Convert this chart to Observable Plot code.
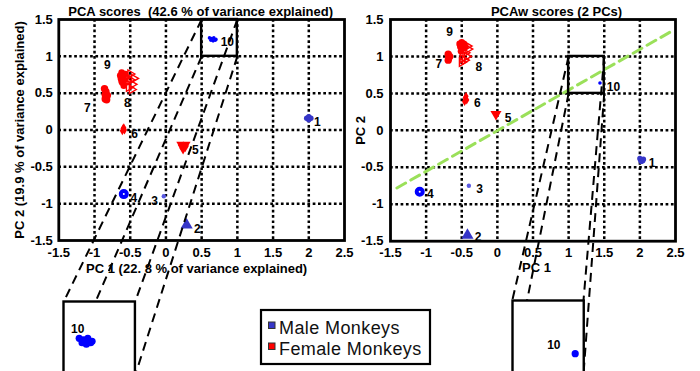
<!DOCTYPE html>
<html><head><meta charset="utf-8">
<script src="https://cdn.jsdelivr.net/npm/d3@7"></script>
<script src="https://cdn.jsdelivr.net/npm/@observablehq/plot@0.6"></script>
<style>
html,body{margin:0;padding:0;background:#fff;}
#fig{position:relative;width:700px;height:371px;overflow:hidden;background:#fff;}
#fig svg{position:absolute;background:transparent;overflow:visible;max-width:none;}
#fig svg text{font-family:"Liberation Sans",Arial,Helvetica,sans-serif;font-weight:700;}
#fig svg.legendbox text{font-weight:400;}
</style></head><body><div id="fig"></div>
<script>
// ---------------- data ----------------
const monkeyIds = [1, 2, 3, 4, 5, 6, 7, 8, 9, 10];
const monkeySex = ["Male","Male","Male","Male","Female","Female","Female","Female","Female","Male"];

// PCA scores (replicate points per monkey)
const pcaX = [
  [1.97, 2.00, 2.03, 2.00, 2.00],
  [0.29],
  [-0.03],
  [-0.59],
  [0.20, 0.25, 0.29, 0.22, 0.27, 0.24],
  [-0.60, -0.58, -0.61, -0.59],
  [-0.86, -0.84, -0.85, -0.84, -0.83, -0.85, -0.82],
  [-0.55, -0.50, -0.47, -0.52, -0.45, -0.50, -0.56, -0.48],
  [-0.62, -0.60, -0.63, -0.58, -0.61, -0.59, -0.57, -0.62, -0.64],
  [0.61, 0.64, 0.67, 0.70, 0.63, 0.66, 0.69]
];
const pcaY = [
  [0.16, 0.18, 0.16, 0.14, 0.17],
  [-1.29],
  [-0.90],
  [-0.87],
  [-0.19, -0.20, -0.19, -0.23, -0.24, -0.27],
  [0.02, 0.00, -0.01, 0.03],
  [0.56, 0.52, 0.48, 0.44, 0.41, 0.42, 0.47],
  [0.72, 0.68, 0.62, 0.58, 0.70, 0.76, 0.64, 0.55],
  [0.78, 0.74, 0.70, 0.68, 0.64, 0.60, 0.76, 0.66, 0.74],
  [1.25, 1.24, 1.25, 1.23, 1.22, 1.21, 1.22]
];
const pcaLabelX = [2.12, 0.44, -0.16, -0.45, 0.41, -0.44, -1.10, -0.54, -0.82, 0.86];
const pcaLabelY = [0.11, -1.34, -0.96, -0.92, -0.28, -0.06, 0.29, 0.37, 0.88, 1.19];

// PCAw scores
const pcawX = [
  [2.00, 2.05, 2.02, 2.04, 2.01],
  [-0.42],
  [-0.40],
  [-1.09],
  [-0.02],
  [-0.45, -0.43, -0.46, -0.44],
  [-0.69, -0.68, -0.69, -0.67],
  [-0.50, -0.46, -0.43, -0.45, -0.41, -0.49, -0.42],
  [-0.53, -0.50, -0.47, -0.52, -0.48, -0.51, -0.45, -0.49],
  [1.44]
];
const pcawY = [
  [-0.38, -0.39, -0.42, -0.41, -0.40],
  [-1.42],
  [-0.75],
  [-0.83],
  [0.22],
  [0.44, 0.41, 0.39, 0.46],
  [1.03, 0.99, 0.95, 1.00],
  [0.92, 0.95, 1.00, 1.05, 1.10, 0.97, 1.14],
  [1.17, 1.19, 1.17, 1.13, 1.11, 1.07, 1.13, 1.15],
  [0.64]
];
const pcawLabelX = [2.17, -0.27, -0.25, -0.94, 0.15, -0.28, -0.82, -0.26, -0.67, 1.63];
const pcawLabelY = [-0.45, -1.45, -0.80, -0.86, 0.17, 0.37, 0.89, 0.85, 1.33, 0.58];

// separating line in PCAw plot
const splitX = [-1.41, 2.48];
const splitY = [-0.78, 1.36];

// axes
const xTicks = [-1.5, -1, -0.5, 0, 0.5, 1, 1.5, 2, 2.5];
const yTicks = [-1.5, -1, -0.5, 0, 0.5, 1, 1.5];
const gridX = [-1, -0.5, 0, 0.5, 1, 1.5, 2];
const gridY = [-1, -0.5, 0, 0.5, 1];

// zoom windows (data units) and inset labels
const pcaZoom = {x1: 0.5, x2: 1, y1: 1, y2: 1.5};
const pcawZoom = {x1: 1, x2: 1.5, y1: 0.5, y2: 1};
const pcaInsetLabel = {x: 0.60, y: 1.31, text: "10"};
const pcawInsetLabel = {x: 1.29, y: 0.695, text: "10"};

const titles = ["PCA scores  (42.6 % of variance explained)", "PCAw scores (2 PCs)"];
const xLabels = ["PC 1 (22. 8 % of variance explained)", "PC 1"];
const yLabels = ["PC 2 (19.9 % of variance explained)", "PC 2"];
const legendLabels = ["Male Monkeys", "Female Monkeys"];

// ---------------- styles ----------------
const FONT = "Liberation Sans, Arial, Helvetica, sans-serif";
const blue = "#0000ff", blueDim = "#3636c8", blueLight = "#5a5ae2", red = "#ff0000";
const sqrt3 = Math.sqrt(3);
const triDown = {draw(ctx, size) { const y = -Math.sqrt(size / (sqrt3 * 3)); ctx.moveTo(0, -2 * y); ctx.lineTo(sqrt3 * y, y); ctx.lineTo(-sqrt3 * y, y); ctx.closePath(); }};
const triRight = {draw(ctx, size) { const y = -Math.sqrt(size / (sqrt3 * 3)); ctx.moveTo(-2 * y, 0); ctx.lineTo(y, sqrt3 * y); ctx.lineTo(y, -sqrt3 * y); ctx.closePath(); }};
const markerStyle = {
  1: {symbol: "circle", r: 2.7, fill: blueDim},
  2: {symbol: "triangle", r: 4.5, fill: blueDim},
  3: {symbol: "circle", r: 2.2, fill: blueLight},
  4: {symbol: "circle", r: 3, fill: "white", stroke: blue, strokeWidth: 4},
  5: {symbol: triDown, r: 2.9, fill: red},
  6: {symbol: "diamond", r: 2.7, fill: red},
  7: {symbol: "circle", r: 3.7, fill: red},
  8: {symbol: triRight, r: 3, fill: "none", stroke: red, strokeWidth: 1.4},
  9: {symbol: "circle", r: 3.3, fill: red},
  10: {symbol: "circle", r: 1.8, fill: blue}
};
const pcawOverride = {5: {r: 4.1}};

function rowsOf(X, Y) {
  return monkeyIds.flatMap((id, i) => X[i].map((x, j) => ({id, x, y: Y[i][j]})));
}
function labelsOf(X, Y) {
  return monkeyIds.map((id, i) => ({x: X[i], y: Y[i], text: String(id)}));
}
function dotMarks(rows, k, clip, override = {}) {
  return monkeyIds.map(id => {
    const s = {...markerStyle[id], ...(override[id] || {})};
    return Plot.dot(rows.filter(d => d.id === id), {
      x: "x", y: "y", symbol: s.symbol, r: s.r * k, fill: s.fill,
      stroke: s.stroke || "none", strokeWidth: s.strokeWidth || 1, clip
    });
  });
}
const gridStyle = {stroke: "black", strokeWidth: 2.5, strokeDasharray: "2.7,2.6", strokeOpacity: 1};
const txt = {fontSize: 13, fontWeight: "bold", fill: "black", textAnchor: "middle", lineAnchor: "middle"};
const ptxt = {...txt, fontSize: 12};

function mainPlot(cfg) {
  return Plot.plot({
    width: cfg.width, height: 280,
    marginLeft: cfg.ml, marginRight: cfg.mr, marginTop: 19, marginBottom: cfg.mb,
    x: {domain: [-1.5, 2.5]}, y: {domain: [-1.5, 1.5]},
    style: {fontFamily: FONT, fontSize: "13px", fontWeight: "bold", color: "black", background: "transparent", overflow: "visible"},
    marks: [
      Plot.ruleX(gridX, gridStyle),
      Plot.ruleY(gridY, gridStyle),
      ...(cfg.extra || []),
      ...dotMarks(cfg.rows, 1, false, cfg.override),
      Plot.text(cfg.labels, {x: "x", y: "y", text: "text", ...ptxt}),
      Plot.rect([cfg.zoom], {x1: "x1", x2: "x2", y1: "y1", y2: "y2", fill: "none", stroke: "black", strokeWidth: 2.4}),
      Plot.frame({stroke: "black", strokeWidth: 2.8}),
      Plot.axisX(xTicks, {tickSize: 0, tickPadding: 7, tickFormat: d => String(d), label: null, fontSize: 13, fontWeight: "bold"}),
      Plot.axisY(yTicks, {tickSize: 0, tickPadding: cfg.ytp, tickFormat: d => String(d), label: null, fontSize: 13, fontWeight: "bold"}),
      Plot.text([cfg.title], {frameAnchor: "top", dy: -8, dx: cfg.titleDx, ...txt}),
      Plot.text([cfg.xlabel], {frameAnchor: "bottom", dy: cfg.xlDy, dx: cfg.xlDx, ...txt}),
      Plot.text([cfg.ylabel], {frameAnchor: "left", rotate: -90, dx: cfg.ylDx, ...txt})
    ]
  });
}

function insetPlot(main, zoom, rows, label, factor, override) {
  const xs = main.scale("x"), ys = main.scale("y");
  const w = factor * Math.abs(xs.apply(zoom.x2) - xs.apply(zoom.x1));
  const h = factor * Math.abs(ys.apply(zoom.y1) - ys.apply(zoom.y2));
  const m = 3;
  return Plot.plot({
    width: w + 2 * m, height: h + 2 * m, margin: m,
    x: {domain: [zoom.x1, zoom.x2], axis: null},
    y: {domain: [zoom.y1, zoom.y2], axis: null},
    style: {fontFamily: FONT, fontSize: "12px", fontWeight: "bold", background: "transparent", overflow: "visible"},
    marks: [
      Plot.frame({fill: "white"}),
      ...dotMarks(rows, factor, true, override),
      Plot.text([label], {x: "x", y: "y", text: "text", ...ptxt}),
      Plot.frame({stroke: "black", strokeWidth: 2.4})
    ]
  });
}

// ---------------- build ----------------
const fig = document.getElementById("fig");
function place(el, left, top, z) {
  el.style.left = left + "px"; el.style.top = top + "px"; el.style.zIndex = z;
  fig.appendChild(el);
  return el;
}

const pcaRows = rowsOf(pcaX, pcaY);
const pcawRows = rowsOf(pcawX, pcawY);

const L = {left: 0, top: 0};
const R = {left: 350, top: 0};
const left = mainPlot({
  width: 360, ml: 58.3, mr: 16, mb: 40, ytp: 6,
  rows: pcaRows, labels: labelsOf(pcaLabelX, pcaLabelY), zoom: pcaZoom,
  title: titles[0], xlabel: xLabels[0], ylabel: yLabels[0],
  titleDx: -1, xlDx: -5, xlDy: 28, ylDx: -39
});
const right = mainPlot({
  width: 350, ml: 40, mr: 25, mb: 39.3, ytp: 7,
  rows: pcawRows, labels: labelsOf(pcawLabelX, pcawLabelY), zoom: pcawZoom, override: pcawOverride,
  title: titles[1], xlabel: xLabels[1], ylabel: yLabels[1],
  titleDx: 23.5, xlDx: 3.5, xlDy: 26.5, ylDx: -30,
  extra: [Plot.line(splitX.map((x, i) => ({x, y: splitY[i]})), {x: "x", y: "y", stroke: "#9be05a", strokeWidth: 3, strokeDasharray: "10,6"})]
});
place(left, L.left, L.top, 1);
place(right, R.left, R.top, 1);

const insetL = insetPlot(left, pcaZoom, pcaRows, pcaInsetLabel, 2, {});
const insetR = insetPlot(right, pcawZoom, pcawRows, pcawInsetLabel, 2, pcawOverride);
const IL = {left: 63.3 - 3, top: 301 - 3};
const IR = {left: 511.7 - 3, top: 300.3 - 3};

function corners(plot, pos, z) {
  const xs = plot.scale("x"), ys = plot.scale("y");
  return {
    tl: [pos.left + xs.apply(z.x1), pos.top + ys.apply(z.y2)],
    tr: [pos.left + xs.apply(z.x2), pos.top + ys.apply(z.y2)],
    bl: [pos.left + xs.apply(z.x1), pos.top + ys.apply(z.y1)],
    br: [pos.left + xs.apply(z.x2), pos.top + ys.apply(z.y1)]
  };
}
const links = [];
for (const [main, mpos, ins, ipos, z] of [[left, L, insetL, IL, pcaZoom], [right, R, insetR, IR, pcawZoom]]) {
  const a = corners(main, mpos, z), b = corners(ins, ipos, z);
  for (const k of ["tl", "tr", "bl", "br"]) links.push({x1: a[k][0], y1: a[k][1], x2: b[k][0], y2: b[k][1]});
}
const overlay = Plot.plot({
  width: 700, height: 371, margin: 0,
  x: {type: "identity", axis: null}, y: {type: "identity", axis: null},
  style: {background: "transparent", overflow: "visible"},
  marks: [Plot.link(links, {x1: "x1", y1: "y1", x2: "x2", y2: "y2", stroke: "black", strokeWidth: 2, strokeDasharray: "9,6"})]
});
place(overlay, 0, 0, 2);
place(insetL, IL.left, IL.top, 3);
place(insetR, IR.left, IR.top, 3);

// legend
const legendColors = {Male: blueDim, Female: red};
const lg = d3.create("svg").attr("class", "legendbox").attr("width", 172).attr("height", 57);
lg.append("rect").attr("x", 1).attr("y", 1).attr("width", 169).attr("height", 54)
  .attr("fill", "white").attr("stroke", "black").attr("stroke-width", 2.2);
legendLabels.forEach((lab, i) => {
  const sex = lab.startsWith("Male") ? "Male" : "Female";
  const cy = 16.5 + i * 21;
  lg.append("rect").attr("x", 8.5).attr("y", cy - 3.5).attr("width", 6.5).attr("height", 6.5)
    .attr("fill", legendColors[sex]).attr("stroke", "#333").attr("stroke-width", 1);
  lg.append("text").attr("x", 19).attr("y", cy + 8.5).attr("font-size", 18)
    .attr("letter-spacing", "0.4px").attr("fill", "#111").text(lab);
});
place(lg.node(), 260, 309, 3);
</script></body></html>
